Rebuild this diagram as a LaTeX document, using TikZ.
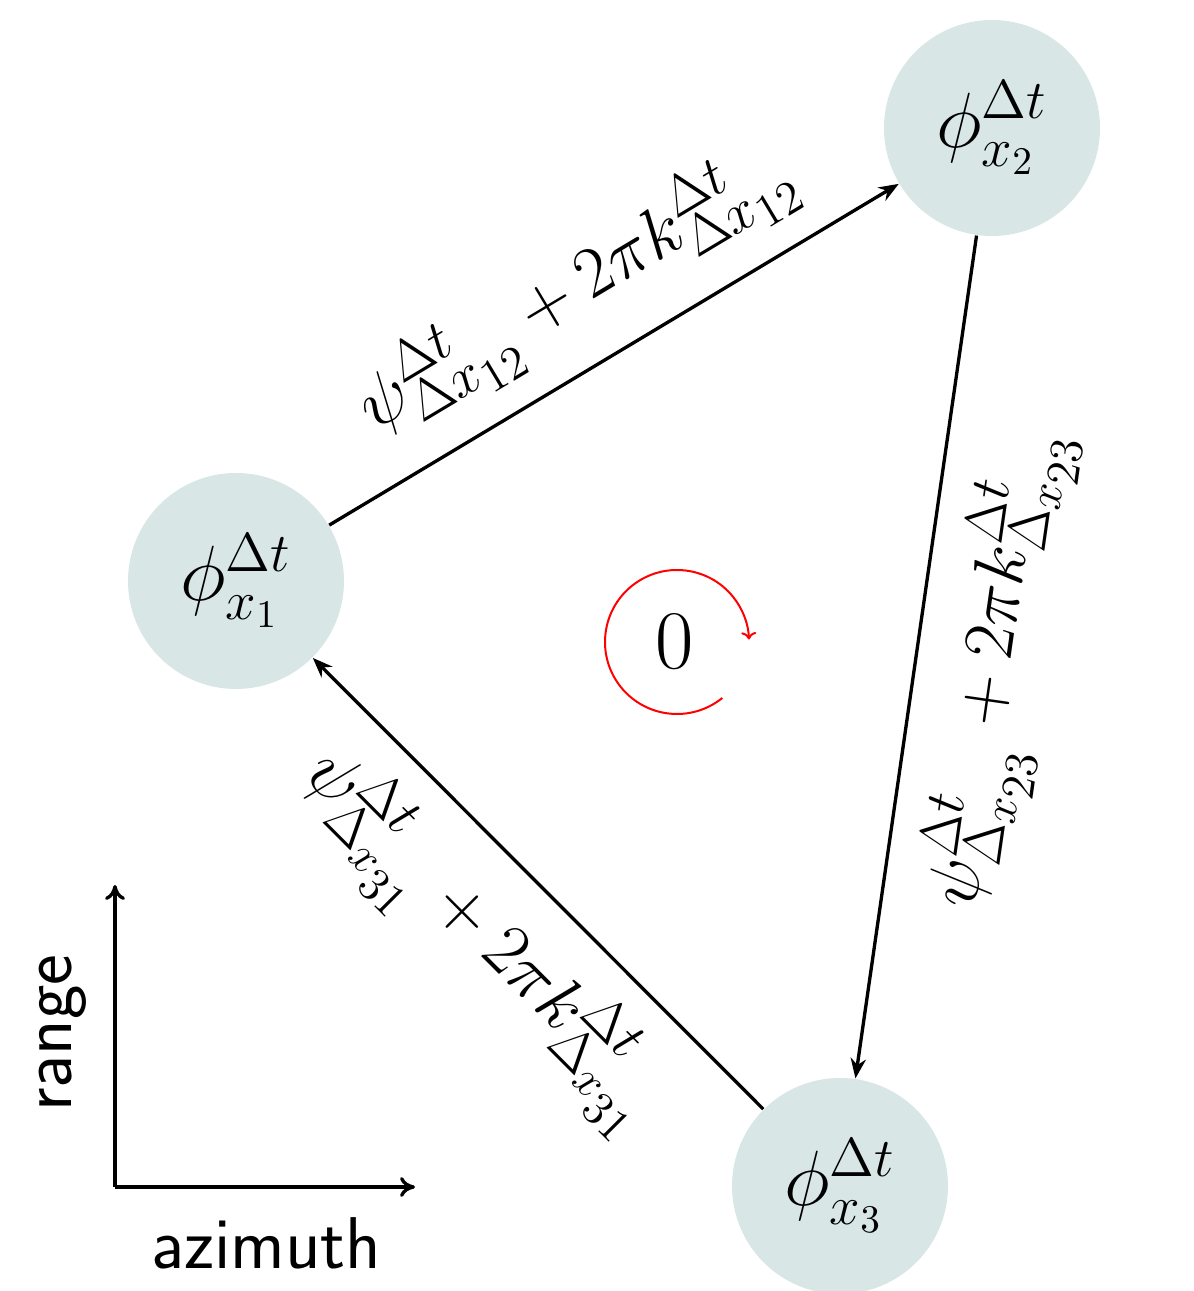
\RequirePackage{fix-cm}
\documentclass[tikz,border=0pt]{standalone}
\usetikzlibrary{arrows.meta,calc}
\DeclareMathSizes{21.5}{21.5}{17}{14.2}
\definecolor{nodefill}{RGB}{216,230,230}
\tikzset{
  phase/.style={circle, fill=nodefill, draw=none, minimum size=64.8pt, inner sep=0pt,
    font=\fontsize{23.5}{28}\selectfont},
  edge/.style={line width=1pt, -{Stealth[length=6pt,width=4.6pt]}},
  elabel/.style={midway, sloped, inner sep=0pt, font=\fontsize{21.5}{26}\selectfont},
  axis/.style={line width=1pt, -{To[length=4.5pt,width=6pt]}},
  axlabel/.style={font=\sffamily\fontsize{22}{26}\selectfont, inner sep=0pt},
}
\begin{document}
\begin{tikzpicture}[x=0.3pt,y=0.3pt]
\useasboundingbox (0,0) rectangle (1193,1291);
\node[phase] (x1) at (236,710) {$\phi^{\Delta t}_{x_1}$};
\node[phase] (x2) at (992,1163) {$\phi^{\Delta t}_{x_2}$};
\node[phase] (x3) at (840,105) {$\phi^{\Delta t}_{x_3}$};
\draw[edge] (x1) -- node[elabel, above=8pt] {$\psi^{\Delta t}_{\Delta x_{12}} + 2\pi k^{\Delta t}_{\Delta x_{12}}$} (x2);
\draw[edge] (x2) -- node[elabel, below=8.5pt] {$\psi^{\Delta t}_{\Delta_{x_{23}}} + 2\pi k^{\Delta t}_{\Delta_{x_{23}}}$} (x3);
\draw[edge] (x3) -- node[elabel, below=7.5pt] {$\psi^{\Delta t}_{\Delta_{x_{31}}} + 2\pi k^{\Delta t}_{\Delta_{x_{31}}}$} (x1);
\node[font=\fontsize{25}{30}\selectfont, inner sep=0pt] (zero) at (675,649) {$0$};
\coordinate (cc) at (677,649);
\draw[red, line width=0.6pt, -{To[length=2.2pt,width=4.5pt]}] ($(cc)+(-51:72)$) arc[start angle=-51, end angle=-358, radius=72];
\coordinate (o) at (115,104);
\coordinate (up) at (115,406);
\coordinate (rt) at (415,104);
\draw[axis] (o) -- (up);
\draw[axis] (o) -- (rt);
\node[axlabel, rotate=90] (rng) at (63,258) {range};
\node[axlabel] (azi) at (266,48) {azimuth};
\end{tikzpicture}
\end{document}
